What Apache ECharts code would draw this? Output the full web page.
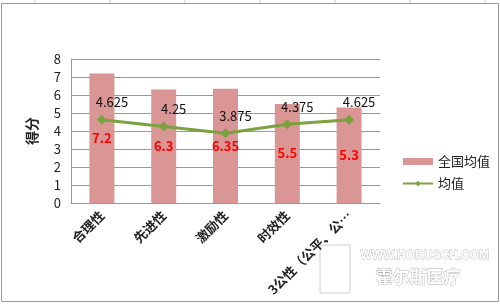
<!DOCTYPE html>
<html><head><meta charset="utf-8">
<script src="https://cdn.jsdelivr.net/npm/echarts@6/dist/echarts.min.js"></script>
<style>html,body{margin:0;padding:0;background:#fff}#c{width:500px;height:304px}</style>
</head><body><div id="c"></div>
<script>
const categories = ['合理性', '先进性', '激励性', '时效性', '3公性（公平、公…'];
const nationalAvg = [7.2, 6.3, 6.35, 5.5, 5.3];
const avg = [4.625, 4.25, 3.875, 4.375, 4.625];
const yTicks = [0, 1, 2, 3, 4, 5, 6, 7, 8];

const chart = echarts.init(document.getElementById('c'), null, {renderer: 'canvas'});
const font = '"Microsoft YaHei","Noto Sans CJK SC",sans-serif';
const sheetLines = [35, 110, 185, 260, 335, 410, 485].map(x => ({
  type: 'line', shape: {x1: x, y1: 0, x2: x, y2: 3}, style: {stroke: '#c8c8c8', lineWidth: 1}
}));
chart.setOption({
  animation: false,
  textStyle: {fontFamily: font},
  grid: {left: 71, right: 120, top: 59, bottom: 101},
  xAxis: {
    type: 'category', data: categories,
    axisLine: {lineStyle: {color: '#999', width: 1}},
    axisTick: {show: false},
    axisLabel: {rotate: 45, color: '#222', fontSize: 13, fontWeight: 'bold', margin: 10, fontFamily: font}
  },
  yAxis: {
    type: 'value', min: yTicks[0], max: yTicks[yTicks.length - 1], interval: 1,
    name: '得分', nameLocation: 'middle', nameGap: 32, nameRotate: 90,
    nameTextStyle: {fontSize: 14, fontWeight: 'bold', color: '#222', fontFamily: font},
    axisLine: {show: true, lineStyle: {color: '#999'}},
    axisTick: {show: false},
    axisLabel: {color: '#222', fontSize: 13, margin: 10},
    splitLine: {lineStyle: {color: '#999', width: 1}}
  },
  legend: {
    orient: 'vertical', left: 397, top: 150, itemGap: 9,
    itemWidth: 30, itemHeight: 7,
    textStyle: {fontSize: 13, color: '#222', fontFamily: font},
    data: [
      {name: '全国均值', icon: 'rect'},
      {name: '均值'}
    ]
  },
  graphic: [
    ...sheetLines,
    {type: 'rect', shape: {x: 1.5, y: 3.5, width: 497, height: 298}, style: {fill: 'none', stroke: '#9a9a9a', lineWidth: 1}, silent: true},
    {type: 'text', left: 360, top: 249, style: {text: 'WWW.HORUSCH.COM', fill: '#fff', stroke: '#b8b8b8', lineWidth: 0.8, font: 'bold 12px sans-serif'}},
    {type: 'text', left: 375, top: 268, style: {text: '霍尔斯医疗', fill: '#fff', stroke: '#b0b0b0', lineWidth: 0.8, font: 'bold 17px "Noto Sans CJK SC",sans-serif'}},
    {type: 'rect', shape: {x: 320, y: 245, width: 30, height: 48}, style: {fill: 'none', stroke: '#d0d0d0', lineWidth: 1}}
  ],
  series: [
    {
      name: '全国均值', type: 'bar', data: nationalAvg, barWidth: 25,
      itemStyle: {color: '#d99694'},
      label: {show: true, position: 'inside', color: '#ff0000', fontWeight: 'bold', fontSize: 13, fontFamily: font}
    },
    {
      name: '均值', type: 'line', data: avg,
      symbol: 'diamond', symbolSize: 10,
      lineStyle: {color: '#7aa23e', width: 3},
      itemStyle: {color: '#7aa23e'},
      label: {show: true, position: 'top', distance: 6, offset: [10, 0], color: '#111', fontSize: 13, fontFamily: font}
    }
  ]
});
</script></body></html>
